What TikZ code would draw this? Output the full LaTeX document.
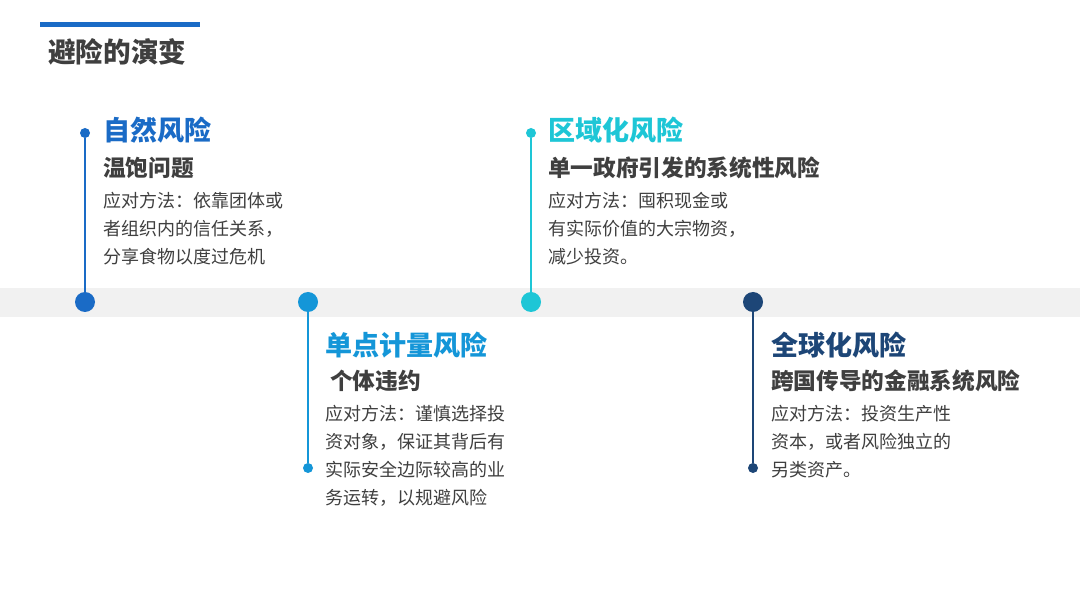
\documentclass[tikz,border=0pt]{standalone}
\usepackage{fontspec}
\setmainfont{Noto Sans CJK SC}
\usepackage{tikz}
\usetikzlibrary{positioning}

\definecolor{riskA}{HTML}{1A6BC6}
\definecolor{riskB}{HTML}{1496D8}
\definecolor{riskC}{HTML}{1EC6D6}
\definecolor{riskD}{HTML}{1D4677}
\definecolor{bandgray}{HTML}{F1F1F1}
\definecolor{txtgray}{HTML}{3F3F3F}

\tikzset{
  bigdot/.style={circle, fill=#1, minimum size=15pt, inner sep=0pt},
  smalldot/.style={circle, fill=#1, minimum size=7.5pt, inner sep=0pt},
  stem/.style={#1, line width=1.5pt},
  headtxt/.style={anchor=west, inner sep=0pt, text=#1, font=\fontsize{20.3}{24}\selectfont\bfseries},
  subtxt/.style={anchor=west, inner sep=0pt, text=txtgray, font=\fontsize{17}{20}\selectfont\bfseries},
  bodytxt/.style={anchor=north west, inner sep=0pt, align=left, text=txtgray, font=\fontsize{13.5}{21}\selectfont}
}

\begin{document}
\begin{tikzpicture}[x=0.75pt, y=-0.75pt]
		\useasboundingbox[fill=white] (0,0) rectangle (1080,605);
		
		% title
		\fill[riskA] (40,22) rectangle (200,27);
		\node[anchor=west, inner sep=0pt, text=txtgray, font=\fontsize{20.7}{24}\selectfont\bfseries] (title) at (48,52) {避险的演变};
		
		% band
		\fill[bandgray] (0,288) rectangle (1080,317);
		
		% dots on the band
		\node[bigdot=riskA] (dotA) at (85,302) {};
		\node[bigdot=riskB] (dotB) at (308,302) {};
		\node[bigdot=riskC] (dotC) at (531,302) {};
		\node[bigdot=riskD] (dotD) at (753,302) {};
		
		% end dots
		\node[smalldot=riskA] (endA) at (85,133) {};
		\node[smalldot=riskB] (endB) at (308,468) {};
		\node[smalldot=riskC] (endC) at (531,133) {};
		\node[smalldot=riskD] (endD) at (753,468) {};
		
		\draw[stem=riskA] (endA) -- (dotA);
		\draw[stem=riskB] (dotB) -- (endB);
		\draw[stem=riskC] (endC) -- (dotC);
		\draw[stem=riskD] (dotD) -- (endD);
		
		% 1
		\node[headtxt=riskA] (headA) at (103,130) {自然风险};
		\node[subtxt] (subA) at (103,168) {温饱问题};
		\node[bodytxt] (bodyA) at (103,192) {应对方法：依靠团体或\\者组织内的信任关系，\\分享食物以度过危机};
		
		% 2
		\node[headtxt=riskB] (headB) at (325,345) {单点计量风险};
		\node[subtxt] (subB) at (330,381) {个体违约};
		\node[bodytxt] (bodyB) at (325,405) {应对方法：谨慎选择投\\资对象，保证其背后有\\实际安全边际较高的业\\务运转，以规避风险};
		
		% 3
		\node[headtxt=riskC] (headC) at (548,130) {区域化风险};
		\node[subtxt] (subC) at (548,168) {单一政府引发的系统性风险};
		\node[bodytxt] (bodyC) at (548,192) {应对方法：囤积现金或\\有实际价值的大宗物资，\\减少投资。};
		
		% 4
		\node[headtxt=riskD] (headD) at (771,345) {全球化风险};
		\node[subtxt] (subD) at (771,381) {跨国传导的金融系统风险};
		\node[bodytxt] (bodyD) at (771,405) {应对方法：投资生产性\\资本，或者风险独立的\\另类资产。};
		
		\end{tikzpicture}
\end{document}
